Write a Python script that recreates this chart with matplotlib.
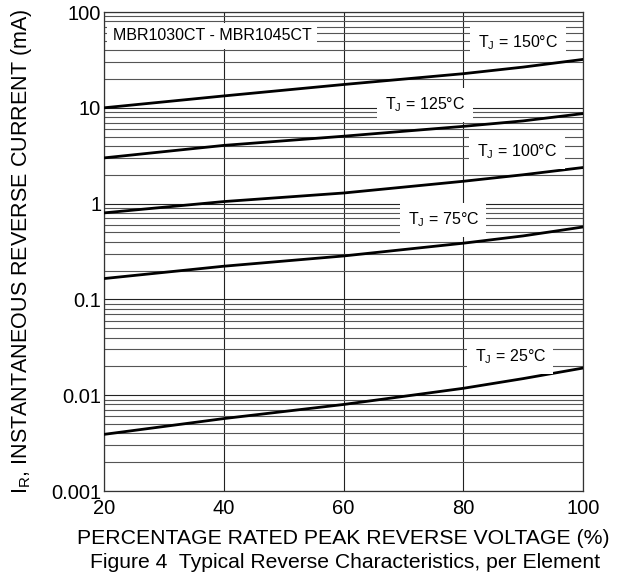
import matplotlib
matplotlib.use("Agg")
import matplotlib.pyplot as plt
from matplotlib.ticker import FixedLocator, NullFormatter, LogLocator

plt.rcParams['font.family'] = ['Liberation Sans', 'DejaVu Sans']
plt.rcParams['mathtext.fontset'] = 'custom'
plt.rcParams['mathtext.rm'] = 'Liberation Sans'
plt.rcParams['mathtext.it'] = 'Liberation Sans'

# percentage of rated peak reverse voltage
voltage = [20, 40, 60, 80, 90, 100]

# reverse current (mA)
ir_150 = [10.0, 13.3, 17.5, 22.7, 26.6, 32.0]
ir_125 = [3.0, 4.05, 5.05, 6.4, 7.3, 8.7]
ir_100 = [0.80, 1.05, 1.29, 1.71, 2.0, 2.38]
ir_75 = [0.165, 0.222, 0.284, 0.386, 0.46, 0.57]
ir_25 = [0.0039, 0.0057, 0.0080, 0.0118, 0.0149, 0.0192]

curves = [ir_150, ir_125, ir_100, ir_75, ir_25]
temps = ['150', '125', '100', '75', '25']
# label centres in axes fraction
label_pos = [(0.864, 0.937), (0.670, 0.806), (0.862, 0.708), (0.708, 0.566), (0.848, 0.280)]

xticks = [20, 40, 60, 80, 100]
yticks = [0.001, 0.01, 0.1, 1, 10, 100]
ytick_labels = ['0.001', '0.01', '0.1', '1', '10', '100']

fig = plt.figure(figsize=(6.28, 5.75), dpi=100)
ax = fig.add_axes([104/628, 1 - 491/575, 479/628, 479/575])

ax.set_yscale('log')
ax.set_xlim(20, 100)
ax.set_ylim(0.001, 100)

ax.yaxis.set_major_locator(FixedLocator(yticks))
ax.set_yticklabels(ytick_labels)
ax.yaxis.set_minor_locator(LogLocator(base=10, subs=range(2, 10)))
ax.yaxis.set_minor_formatter(NullFormatter())
ax.set_xticks(xticks)
ax.set_xticklabels([str(v) for v in xticks])

ax.grid(True, which='major', axis='both', color='#222222', lw=0.8)
ax.grid(True, which='minor', axis='y', color='#555555', lw=0.8)
ax.tick_params(which='both', length=0, labelsize=14.5)
ax.tick_params(axis='y', pad=2)
ax.tick_params(axis='x', pad=6)
for s in ax.spines.values():
    s.set_color('#333333')
    s.set_linewidth(0.9)

for c in curves:
    ax.plot(voltage, c, color='black', lw=2.0, zorder=3)

for t, (fx, fy) in zip(temps, label_pos):
    ax.text(fx, fy, r'T$_\mathrm{J}$ = ' + t + '°C', transform=ax.transAxes,
            ha='center', va='center', fontsize=11.5, zorder=5,
            bbox=dict(facecolor='white', edgecolor='none', pad=5.5))

ax.text(0.2255, 0.95, 'MBR1030CT - MBR1045CT', transform=ax.transAxes,
        ha='center', va='center', fontsize=11.5, zorder=5,
        bbox=dict(facecolor='white', edgecolor='none', pad=4))

ax.set_xlabel('PERCENTAGE RATED PEAK REVERSE VOLTAGE (%)', fontsize=15.3)
ax.xaxis.set_label_coords(0.5, (491 - 538) / 479)
ax.xaxis.label.set_va('center')
ax.set_ylabel(r'I$_\mathrm{R}$, INSTANTANEOUS REVERSE CURRENT (mA)', fontsize=15.5)
ax.yaxis.set_label_coords((22 - 104) / 479, 0.5)
ax.yaxis.label.set_va('center')
fig.text(345/628, 1 - 563/575, 'Figure 4  Typical Reverse Characteristics, per Element',
         ha='center', va='center', fontsize=15.2)

fig.savefig('out.png', dpi=100)
